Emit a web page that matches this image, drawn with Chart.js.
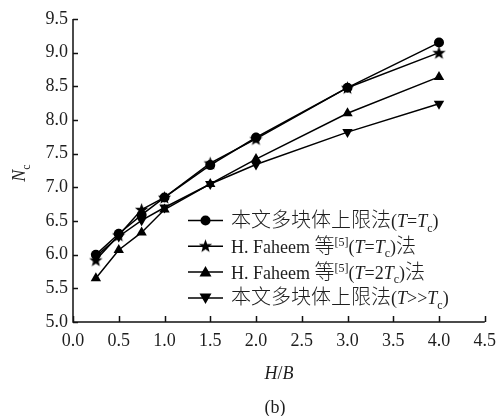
<!DOCTYPE html>
<html>
<head>
<meta charset="utf-8">
<script src="https://cdn.jsdelivr.net/npm/chart.js@4.4.0/dist/chart.umd.min.js"></script>
<style>
html, body { margin: 0; padding: 0; background: #fff; }
#wrap { width: 504px; height: 416px; position: relative; }
</style>
</head>
<body>
<div id="wrap"><canvas id="chart" width="504" height="416"></canvas></div>
<script>
// H/B values (x) and N_c for each method
var hbValues = [0.25, 0.5, 0.75, 1.0, 1.5, 2.0, 3.0, 4.0];
var ncThisTc = [6.00, 6.31, 6.59, 6.85, 7.33, 7.74, 8.48, 9.15];
var ncFaheemTc = [5.92, 6.29, 6.67, 6.85, 7.36, 7.72, 8.48, 9.00];
var ncFaheem2Tc = [5.65, 6.07, 6.33, 6.67, 7.05, 7.42, 8.10, 8.64];
var ncThisInf = [5.97, 6.27, 6.51, 6.70, 7.05, 7.34, 7.82, 8.24];

// legend text as runs: [text, kind]  kind: '' plain, 'i' italic, 'z' chinese, 'sub', 'sup'
var legendLabels = [
    [['本文多块体上限法', 'z'], ['(', ''], ['T', 'i'], ['=', ''], ['T', 'i'], ['c', 'sub'], [')', '']],
    [['H. Faheem ', ''], ['等', 'z'], ['[5]', 'sup'], ['(', ''], ['T', 'i'], ['=', ''], ['T', 'i'], ['c', 'sub'], [')', ''], ['法', 'z']],
    [['H. Faheem ', ''], ['等', 'z'], ['[5]', 'sup'], ['(', ''], ['T', 'i'], ['=2', ''], ['T', 'i'], ['c', 'sub'], [')', ''], ['法', 'z']],
    [['本文多块体上限法', 'z'], ['(', ''], ['T', 'i'], ['>>', ''], ['T', 'i'], ['c', 'sub'], [')', '']]
];
var xTitle = [['H', 'i'], ['/', ''], ['B', 'i']];
var yTitle = [['N', 'i'], ['c', 'sub']];
var caption = '(b)';

const SERIF = '"Liberation Serif", "Times New Roman", serif';
const CJK = '"Noto Sans CJK SC", sans-serif';
const TEXT_COLOR = '#1e1e1e';

// filled five point star used as point style
var starImg = (function(){
    var c = document.createElement('canvas');
    c.width = 15; c.height = 15;
    var g = c.getContext('2d');
    g.fillStyle = '#000';
    g.beginPath();
    for(let i = 0; i < 10; i++){
        let r = (i % 2 === 0) ? 7 : 2.9;
        let a = -Math.PI/2 + i*Math.PI/5;
        let px = 7.5 + r*Math.cos(a), py = 8 + r*Math.sin(a);
        if(i === 0) g.moveTo(px, py); else g.lineTo(px, py);
    }
    g.closePath();
    g.fill();
    return c;
})();

function runFont(kind, size){
    if(kind === 'sub' || kind === 'sup') return Math.round(size*0.66) + 'px ' + SERIF;
    if(kind === 'z') return '300 ' + (size + 2) + 'px ' + CJK;
    return (kind === 'i' ? 'italic ' : '') + size + 'px ' + SERIF;
}

function runsWidth(ctx, runs, size){
    let w = 0;
    runs.forEach(function(r){ ctx.font = runFont(r[1], size); w += ctx.measureText(r[0]).width; });
    return w;
}

function drawRuns(ctx, runs, x, y, size){
    runs.forEach(function(r){
        ctx.font = runFont(r[1], size);
        let dy = r[1] === 'sub' ? size*0.25 : (r[1] === 'sup' ? -size*0.38 : 0);
        ctx.fillText(r[0], x, y + dy);
        x += ctx.measureText(r[0]).width;
    });
    return x;
}

function drawMarker(ctx, style, x, y){
    ctx.fillStyle = '#000';
    ctx.beginPath();
    if(style === 'circle'){
        ctx.arc(x, y, 5, 0, Math.PI*2);
        ctx.fill();
    } else if(style === 'star'){
        ctx.drawImage(starImg, x - 7.5, y - 8);
    } else if(style === 'up'){
        ctx.moveTo(x, y - 6); ctx.lineTo(x + 6, y + 4.5); ctx.lineTo(x - 6, y + 4.5);
        ctx.closePath(); ctx.fill();
    } else {
        ctx.moveTo(x, y + 6); ctx.lineTo(x + 6, y - 4.5); ctx.lineTo(x - 6, y - 4.5);
        ctx.closePath(); ctx.fill();
    }
}

var legendMarkers = ['circle', 'star', 'up', 'down'];

var paperPlugin = {
    id: 'paperAxes',
    afterDraw: function(chart){
        const ctx = chart.ctx;
        const a = chart.chartArea;
        const xs = chart.scales.x, ys = chart.scales.y;
        ctx.save();

        // axis lines with inward ticks
        ctx.strokeStyle = '#111';
        ctx.lineWidth = 1.5;
        ctx.beginPath();
        ctx.moveTo(a.left, a.top);
        ctx.lineTo(a.left, a.bottom);
        ctx.lineTo(a.right, a.bottom);
        ys.ticks.forEach(function(t){
            let py = Math.round(ys.getPixelForValue(t.value)) + 0.5;
            ctx.moveTo(a.left, py); ctx.lineTo(a.left + 5, py);
        });
        xs.ticks.forEach(function(t){
            let px = Math.round(xs.getPixelForValue(t.value)) + 0.5;
            ctx.moveTo(px, a.bottom); ctx.lineTo(px, a.bottom - 6);
        });
        ctx.stroke();

        ctx.fillStyle = TEXT_COLOR;
        ctx.textBaseline = 'alphabetic';
        ctx.textAlign = 'left';

        // x title and caption
        let w = runsWidth(ctx, xTitle, 18);
        drawRuns(ctx, xTitle, (a.left + a.right)/2 - w/2, 379, 18);
        ctx.font = '18px ' + SERIF;
        ctx.textAlign = 'center';
        ctx.fillText(caption, 275, 413);
        ctx.textAlign = 'left';

        // y title, rotated
        ctx.save();
        ctx.translate(25, 173);
        ctx.rotate(-Math.PI/2);
        w = runsWidth(ctx, yTitle, 18);
        drawRuns(ctx, yTitle, -w/2, 0, 18);
        ctx.restore();

        // legend
        for(let i = 0; i < legendLabels.length; i++){
            let cy = 220.5 + i*25.8;
            ctx.strokeStyle = '#000';
            ctx.lineWidth = 1.5;
            ctx.beginPath();
            ctx.moveTo(188, cy); ctx.lineTo(223, cy);
            ctx.stroke();
            drawMarker(ctx, legendMarkers[i], 205.5, cy);
            ctx.fillStyle = TEXT_COLOR;
            drawRuns(ctx, legendLabels[i], 231, cy + 6.5, 18);
        }
        ctx.restore();
    }
};

function makeSet(label, values, style, rotation, radius){
    return {
        label: label,
        data: hbValues.map(function(x, i){ return {x: x, y: values[i]}; }),
        borderColor: '#000',
        backgroundColor: '#000',
        borderWidth: 1.5,
        pointStyle: style,
        pointRotation: rotation,
        pointRadius: radius,
        pointBorderWidth: 0,
        pointBackgroundColor: '#000',
        tension: 0,
        fill: false
    };
}

Chart.defaults.font.family = SERIF;
Chart.defaults.color = TEXT_COLOR;

var chart = new Chart(document.getElementById('chart'), {
    type: 'line',
    data: {
        datasets: [
            makeSet('本文多块体上限法(T=Tc)', ncThisTc, 'circle', 0, 5),
            makeSet('H. Faheem 等[5](T=Tc)法', ncFaheemTc, starImg, 0, 7),
            makeSet('H. Faheem 等[5](T=2Tc)法', ncFaheem2Tc, 'triangle', 0, 6),
            makeSet('本文多块体上限法(T>>Tc)', ncThisInf, 'triangle', 180, 6)
        ]
    },
    options: {
        responsive: false,
        animation: false,
        devicePixelRatio: 1,
        layout: { padding: { top: 19, right: 14, left: 0, bottom: 0 } },
        plugins: {
            legend: { display: false },
            tooltip: { enabled: false }
        },
        scales: {
            x: {
                type: 'linear',
                min: 0, max: 4.5,
                grid: { display: false, drawTicks: false },
                border: { display: false },
                ticks: {
                    stepSize: 0.5,
                    padding: 8,
                    maxRotation: 0,
                    font: { size: 18 },
                    callback: function(v){ return v.toFixed(1); }
                },
                afterFit: function(s){ s.height = 94; }
            },
            y: {
                min: 5, max: 9.5,
                grid: { display: false, drawTicks: false },
                border: { display: false },
                ticks: {
                    stepSize: 0.5,
                    padding: 5,
                    font: { size: 18 },
                    callback: function(v){ return v.toFixed(1); }
                },
                afterFit: function(s){ s.width = 73; }
            }
        }
    },
    plugins: [paperPlugin]
});
</script>
</body>
</html>
